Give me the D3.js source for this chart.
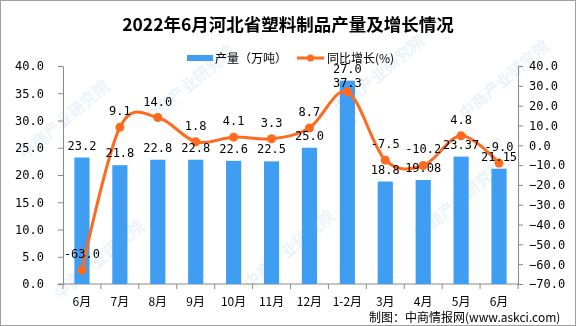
<!DOCTYPE html>
<html>
<head>
<meta charset="utf-8">
<script src="https://cdn.jsdelivr.net/npm/d3@7"></script>
<style>
  body { margin: 0; background: #fff; }
  svg text { fill: #000; }
</style>
</head>
<body>
<div id="chart"></div>
<script>
const categories = ["6月","7月","8月","9月","10月","11月","12月","1-2月","3月","4月","5月","6月"];
const output = [23.2, 21.8, 22.8, 22.8, 22.6, 22.5, 25.0, 37.3, 18.8, 19.08, 23.37, 21.15];
const outputLabels = ["23.2","21.8","22.8","22.8","22.6","22.5","25.0","37.3","18.8","19.08","23.37","21.15"];
const growth = [-63.0, 9.1, 14.0, 1.8, 4.1, 3.3, 8.7, 27.0, -7.5, -10.2, 4.8, -9.0];
const leftTicks = [0, 5, 10, 15, 20, 25, 30, 35, 40];
const rightTicks = [40, 30, 20, 10, 0, -10, -20, -30, -40, -50, -60, -70];

const width = 576, height = 326;
const margin = {top: 66, right: 58, bottom: 42, left: 63};
const barColor = "#3f9df2";
const lineColor = "#ff6a1f";
const numFont = "'DejaVu Sans Mono', monospace";
const cjkFont = "'Noto Sans CJK SC', sans-serif";

const svg = d3.select('#chart')
  .append('svg')
  .attr('width', width)
  .attr('height', height);

// frame
svg.append('rect')
  .attr('x', 0.5).attr('y', 0.5)
  .attr('width', width - 1).attr('height', height - 1)
  .attr('fill', '#fff').attr('stroke', '#a0a0a0');

// faint watermark, kept inside the frame
const wm = svg.append('g').attr('opacity', 0.5);
[[25, 160], [150, 125], [340, 115], [465, 120], [60, 300], [250, 290], [420, 240]].forEach(p => {
  wm.append('text')
    .attr('transform', 'translate(' + p[0] + ',' + p[1] + ') rotate(-40)')
    .attr('font-family', cjkFont)
    .attr('font-size', 16)
    .attr('font-weight', 'bold')
    .style('fill', '#d6e6f4')
    .text('中商产业研究院');
});

const x = d3.scaleBand()
  .domain(d3.range(categories.length))
  .range([margin.left, width - margin.right])
  .padding(0);

const yL = d3.scaleLinear().domain([0, 40]).range([height - margin.bottom, margin.top]);
const yR = d3.scaleLinear().domain([-70, 40]).range([height - margin.bottom, margin.top]);
const cx = i => x(i) + x.bandwidth() / 2;

// title
svg.append('text')
  .attr('x', 288).attr('y', 31)
  .attr('text-anchor', 'middle')
  .attr('font-family', cjkFont)
  .attr('font-weight', 'bold')
  .attr('font-size', 17.5)
  .text('2022年6月河北省塑料制品产量及增长情况');

// legend
const lg = svg.append('g').attr('font-family', cjkFont).attr('font-size', 12);
lg.append('rect').attr('x', 187).attr('y', 55).attr('width', 26).attr('height', 6).attr('fill', barColor);
lg.append('text').attr('x', 215).attr('y', 62.5).text('产量（万吨）');
lg.append('line').attr('x1', 297).attr('x2', 324).attr('y1', 58).attr('y2', 58)
  .attr('stroke', lineColor).attr('stroke-width', 3);
lg.append('circle').attr('cx', 310.5).attr('cy', 58).attr('r', 3.5).attr('fill', lineColor);
lg.append('text').attr('x', 327).attr('y', 62.5).text('同比增长(%)');

// axes
const styleAxis = g => {
  g.selectAll('path, line').attr('stroke', '#888');
  g.selectAll('text').attr('font-family', numFont).attr('font-size', 12).attr('fill', '#000');
};

svg.append('g')
  .attr('transform', 'translate(' + margin.left + ',0)')
  .call(d3.axisLeft(yL).tickValues(leftTicks).tickFormat(d3.format('.1f')).tickSize(5).tickSizeOuter(0).tickPadding(14))
  .call(styleAxis);

svg.append('g')
  .attr('transform', 'translate(' + (width - margin.right) + ',0)')
  .call(d3.axisRight(yR).tickValues(rightTicks).tickFormat(d3.format('.1f')).tickSize(5).tickSizeOuter(0).tickPadding(6))
  .call(styleAxis);

// x axis with ticks on band boundaries
const xg = svg.append('g').attr('transform', 'translate(0,' + (height - margin.bottom) + ')');
xg.append('line')
  .attr('x1', margin.left - 5).attr('x2', width - margin.right)
  .attr('stroke', '#888');
xg.selectAll('.tk')
  .data(d3.range(categories.length + 1))
  .enter().append('line')
  .attr('x1', i => margin.left + i * x.step()).attr('x2', i => margin.left + i * x.step())
  .attr('y1', 0).attr('y2', 5)
  .attr('stroke', '#888');
xg.selectAll('.lbl')
  .data(categories)
  .enter().append('text')
  .attr('x', (d, i) => cx(i))
  .attr('y', 22)
  .attr('text-anchor', 'middle')
  .attr('font-family', cjkFont)
  .attr('font-size', 12)
  .text(d => d);

// bars
const bw = x.bandwidth() * 0.4;
svg.selectAll('.bar')
  .data(output)
  .enter().append('rect')
  .attr('x', (d, i) => x(i) + (x.bandwidth() - bw) / 2)
  .attr('y', d => yL(d))
  .attr('width', bw)
  .attr('height', d => yL(0) - yL(d))
  .attr('fill', barColor);

// line
const line = d3.line()
  .x((d, i) => cx(i))
  .y(d => yR(d))
  .curve(d3.curveCardinal.tension(0));

svg.append('path')
  .datum(growth)
  .attr('d', line)
  .attr('fill', 'none')
  .attr('stroke', lineColor)
  .attr('stroke-width', 3);

svg.selectAll('.dot')
  .data(growth)
  .enter().append('circle')
  .attr('cx', (d, i) => cx(i))
  .attr('cy', d => yR(d))
  .attr('r', 4.5)
  .attr('fill', lineColor);

// bar labels: above the bar, or pushed inside when it would leave the plot
const barLabelY = d => {
  const above = yL(d) - 8;
  return above - 10 < margin.top ? yL(d) + 6 : above;
};
svg.selectAll('.blbl')
  .data(output)
  .enter().append('text')
  .attr('x', (d, i) => cx(i))
  .attr('y', d => barLabelY(d))
  .attr('text-anchor', 'middle')
  .attr('font-family', numFont)
  .attr('font-size', 12)
  .text((d, i) => outputLabels[i]);

// growth labels, lifted clear of a bar label that was pushed inside
svg.selectAll('.glbl')
  .data(growth)
  .enter().append('text')
  .attr('x', (d, i) => cx(i))
  .attr('y', (d, i) => {
    let gy = yR(d) - 12;
    const by = barLabelY(output[i]);
    if (by > yL(output[i]) && Math.abs(gy - by) < 14) gy = by - 14;
    return gy;
  })
  .attr('text-anchor', 'middle')
  .attr('font-family', numFont)
  .attr('font-size', 12)
  .text(d => d3.format('.1f')(d).replace('−', '-'));

// source
svg.append('text')
  .attr('x', 369).attr('y', 322)
  .attr('font-family', cjkFont)
  .attr('font-size', 12)
  .text('制图：中商情报网(www.askci.com)');
</script>
</body>
</html>
